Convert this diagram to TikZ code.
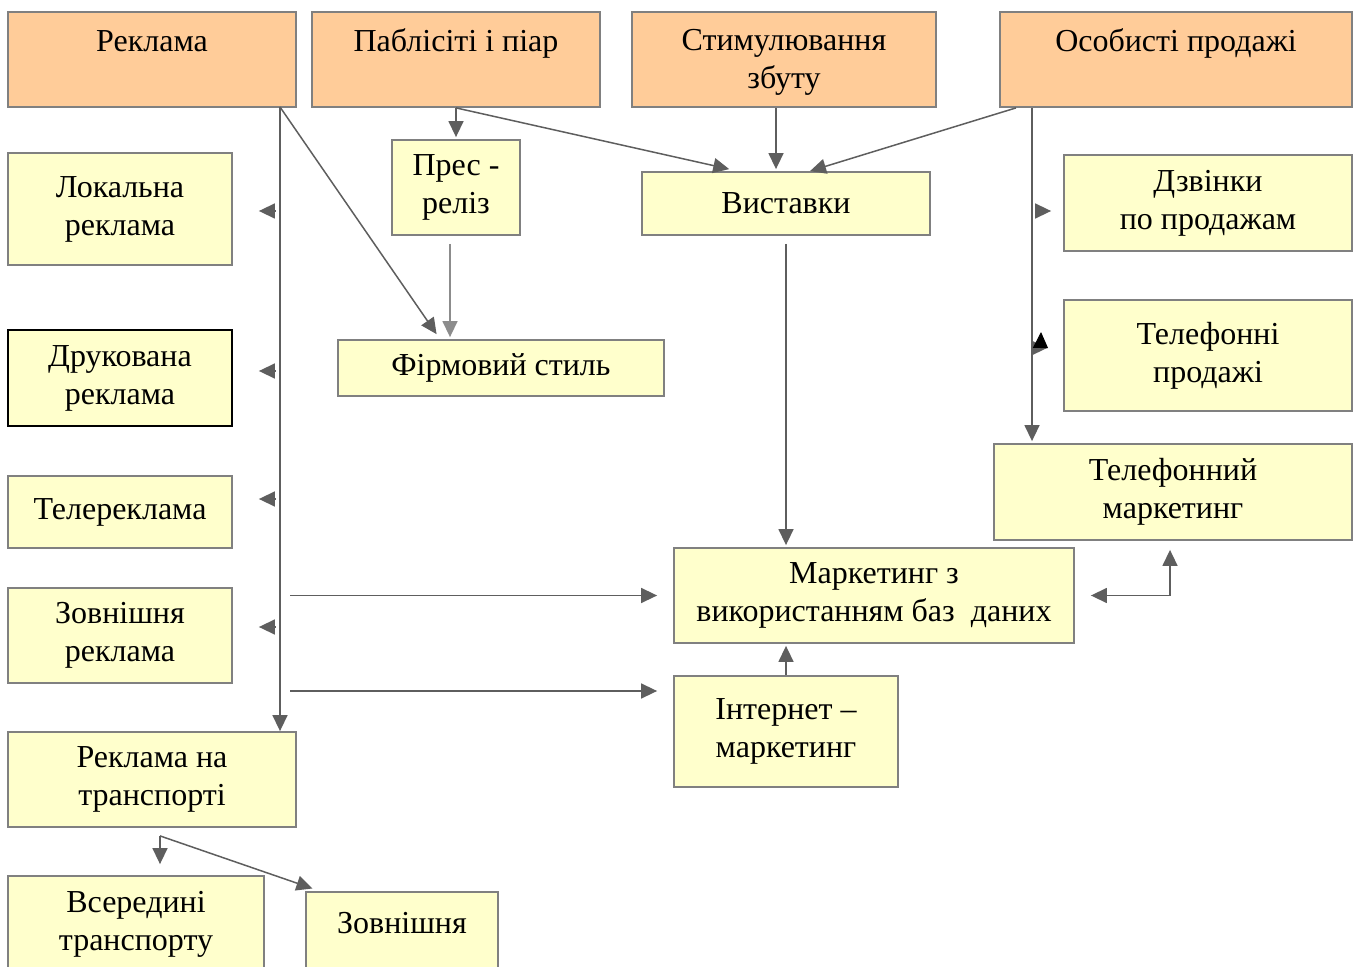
\documentclass[tikz,border=0pt]{standalone}
\usepackage{fontspec}
\setmainfont{Liberation Serif}
\usetikzlibrary{arrows.meta}
\definecolor{peach}{RGB}{255,204,153}
\definecolor{cream}{RGB}{255,255,204}
\definecolor{edge}{RGB}{128,128,128}
\definecolor{wire}{RGB}{94,94,94}
\begin{document}
\begin{tikzpicture}[
  x=0.5pt, y=-0.5pt,
  every node/.style={font=\fontsize{16}{19}\selectfont},
  box/.style={rectangle, draw=edge, line width=0.9pt, align=center, inner sep=0pt},
  head/.style={box, fill=peach},
  item/.style={box, fill=cream},
  conn/.style={-{Triangle[length=8pt, width=7.5pt]}, wire, line width=0.75pt},
  soft/.style={conn, black!45},
  both/.style={{Triangle[length=8pt, width=7.5pt]}-{Triangle[length=8pt, width=7.5pt]}, wire, line width=0.75pt},
]
  \clip (0,0) rectangle (1358,967);

  % top row
  \node[head, minimum width=144pt, minimum height=47.5pt] (rek) at (152,59.5) {\strut Реклама\\[-3.4pt]\strut};
  \node[head, minimum width=144pt, minimum height=47.5pt] (pab) at (456,59.5) {\strut Паблісіті і піар\\[-3.4pt]\strut};
  \node[head, minimum width=152pt, minimum height=47.5pt] (stim) at (784,59.5) {\strut Стимулювання\\збуту};
  \node[head, minimum width=176pt, minimum height=47.5pt] (osob) at (1176,59.5) {\strut Особисті продажі\\[-3.4pt]\strut};

  % advertising column
  \node[item, minimum width=112pt, minimum height=56pt] (lok) at (120,209) {Локальна\\реклама};
  \node[item, draw=black, minimum width=112pt, minimum height=48pt] (druk) at (120,378) {Друкована\\реклама};
  \node[item, minimum width=112pt, minimum height=36pt] (tele) at (120,512) {Телереклама};
  \node[item, minimum width=112pt, minimum height=47.5pt] (zovn) at (120,635.5) {Зовнішня\\реклама};
  \node[item, minimum width=144pt, minimum height=47.5pt] (tra) at (152,779.5) {Реклама на\\транспорті};
  \node[item, minimum width=128pt, minimum height=48pt] (vse) at (136,924) {Всередині\\транспорту};
  \node[item, minimum width=96pt, minimum height=49pt] (zovb) at (402,941) {\strut Зовнішня\\[-3.4pt]\strut};

  % middle
  \node[item, minimum width=64pt, minimum height=47.5pt] (pres) at (456,187.5) {Прес -\\реліз};
  \node[item, minimum width=163pt, minimum height=28pt] (fir) at (501,368) {Фірмовий стиль};
  \node[item, minimum width=144pt, minimum height=31.5pt] (vys) at (786,203.5) {Виставки};
  \node[item, minimum width=200pt, minimum height=47.5pt] (mbd) at (874,595.5) {Маркетинг з\\використанням баз\ \ даних};
  \node[item, minimum width=112pt, minimum height=55.5pt] (int) at (786,731.5) {Інтернет –\\маркетинг};

  % personal selling
  \node[item, minimum width=144pt, minimum height=48pt] (dzv) at (1208,203) {Дзвінки\\по продажам};
  \node[item, minimum width=144pt, minimum height=55.5pt] (telp) at (1208,355.5) {Телефонні\\продажі};
  \node[item, minimum width=179pt, minimum height=48pt] (tmk) at (1173,492) {Телефонний\\маркетинг};

  % advertising spine
  \coordinate (sp) at (280,107);
  \draw[conn] (sp) -- (sp |- tra.north);
  \draw[conn, shorten >=3pt] (sp) -- ([xshift=-30.5pt]fir.north);
  \foreach \n/\y in {lok/211, druk/371, tele/499, zovn/627}
    \draw[conn, shorten >=13pt] (275,\y) -- (\n.east |- 275,\y);
  \draw[conn, shorten <=5pt, shorten >=8pt] (sp |- mbd.west) -- (mbd.west);
  \coordinate (sp2) at (280,691);
  \draw[conn, shorten <=5pt, shorten >=8pt] (sp2) -- (int.west |- sp2);

  % publicity
  \draw[conn, shorten >=1pt] (pab.south) -- (pres.north);
  \draw[conn, shorten >=4.5pt] (pab.south) -- ([xshift=-24pt]vys.north);
  \draw[soft, shorten <=4pt, shorten >=1pt] ([xshift=-3pt]pres.south) -- ([xshift=-3pt]pres.south |- fir.north);

  % sales promotion
  \draw[conn, shorten >=1pt] ([xshift=-4pt]stim.south) -- ([xshift=-4pt]stim.south |- vys.north);
  \draw[conn, shorten <=4pt, shorten >=1pt] (vys.south) -- (vys.south |- mbd.north);
  \draw[conn, shorten >=1pt] (int.north) -- (int.north |- mbd.south);

  % personal selling spine
  \draw[conn] ([xshift=-80pt]osob.south) -- ([xshift=12pt]vys.north);
  \coordinate (sq) at ([xshift=-72pt]osob.south);
  \draw[conn, shorten >=1pt] (sq) -- (sq |- tmk.north);
  \draw[conn, shorten >=6pt] (1037,211) -- (dzv.west |- 1037,211);
  \draw[conn, shorten >=8pt] (1037,348) -- (telp.west |- 1037,348);
  \draw[-{Triangle[length=8pt, width=7.5pt]}, black, line width=0.5pt] (1040.5,348) -- (1041,332);
  \draw[both, shorten <=8pt, shorten >=4.5pt] (mbd.east) -| ([xshift=-1.5pt]tmk.south);

  % transport
  \coordinate (tr) at ([xshift=4pt, yshift=-4pt]tra.south);
  \draw[conn, shorten >=5.5pt] (tr) -- (tr |- vse.north);
  \draw[conn, shorten >=4pt] (tr) -- ([xshift=-41pt]zovb.north);
\end{tikzpicture}
\end{document}
